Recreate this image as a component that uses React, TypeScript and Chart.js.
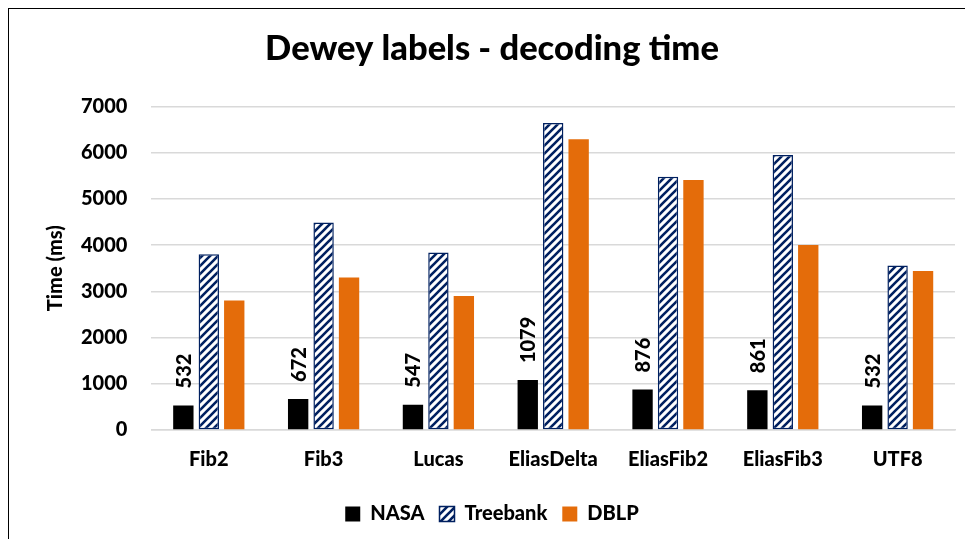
import React, { useEffect, useRef } from "react";
import { Chart, registerables } from "chart.js";

Chart.register(...registerables);

const categories = ["Fib2", "Fib3", "Lucas", "EliasDelta", "EliasFib2", "EliasFib3", "UTF8"];
const nasa = [532, 672, 547, 1079, 876, 861, 532];
const treebank = [3800, 4490, 3840, 6640, 5480, 5950, 3560];
const dblp = [2800, 3300, 2900, 6290, 5410, 4000, 3440];
const seriesNames = ["NASA", "Treebank", "DBLP"];
const titleText = "Dewey labels - decoding time";
const yTitle = "Time (ms)";
const yMax = 7000;
const yStep = 1000;

const FONT = "Lato";
const W = 900;
const NAVY = "#002060";
const ORANGE = "#E46C0A";

function makeHatch(ctx: CanvasRenderingContext2D) {
  const s = 8;
  const tile = document.createElement("canvas");
  tile.width = s;
  tile.height = s;
  const t = tile.getContext("2d")!;
  t.fillStyle = "#ffffff";
  t.fillRect(0, 0, s, s);
  t.strokeStyle = NAVY;
  t.lineWidth = 2.6;
  t.lineCap = "square";
  t.beginPath();
  t.moveTo(0, s);
  t.lineTo(s, 0);
  t.moveTo(-2, 2);
  t.lineTo(2, -2);
  t.moveTo(s - 2, s + 2);
  t.lineTo(s + 2, s - 2);
  t.stroke();
  return ctx.createPattern(tile, "repeat")!;
}

const nasaLabels = {
  id: "nasaLabels",
  afterDatasetsDraw(chart: any) {
    const ctx = chart.ctx as CanvasRenderingContext2D;
    const meta = chart.getDatasetMeta(0);
    const data = chart.data.datasets[0].data as number[];
    ctx.save();
    ctx.fillStyle = "#000";
    ctx.font = `${W} 20px ${FONT}`;
    meta.data.forEach((el: any, i: number) => {
      ctx.save();
      ctx.translate(el.x, el.y - 17);
      ctx.rotate(-Math.PI / 2);
      ctx.textAlign = "left";
      ctx.textBaseline = "middle";
      ctx.fillText(String(data[i]), 0, 1);
      ctx.restore();
    });
    ctx.restore();
  },
};

export default function App() {
  const ref = useRef<HTMLCanvasElement | null>(null);
  useEffect(() => {
    const canvas = ref.current!;
    const ctx = canvas.getContext("2d")!;
    const hatch = makeHatch(ctx);
    const chart = new Chart(canvas, {
      type: "bar",
      data: {
        labels: categories,
        datasets: [
          {
            label: seriesNames[0],
            data: nasa,
            backgroundColor: "#000000",
            borderWidth: 0,
          },
          {
            label: seriesNames[1],
            data: treebank,
            backgroundColor: hatch,
            borderColor: NAVY,
            borderWidth: 1.5,
            borderSkipped: false,
          },
          {
            label: seriesNames[2],
            data: dblp,
            backgroundColor: ORANGE,
            borderWidth: 0,
          },
        ],
      },
      options: {
        animation: false,
        responsive: false,
        maintainAspectRatio: false,
        datasets: { bar: { categoryPercentage: 0.665, barPercentage: 0.8 } },
        layout: { padding: { top: 5, right: 9, bottom: 4, left: 20 } },
        plugins: {
          tooltip: { enabled: false },
          title: {
            display: true,
            text: titleText,
            color: "#000",
            font: { family: FONT, size: 34.5, weight: W as any },
            padding: { top: 14, bottom: 37 },
          },
          legend: {
            position: "bottom",
            labels: {
              color: "#000",
              font: { family: FONT, size: 20, weight: W as any },
              boxWidth: 15,
              boxHeight: 15,
              padding: 15,
            },
          },
        },
        scales: {
          x: {
            grid: { display: false, drawTicks: false },
            border: { display: true, color: "#d9d9d9", width: 1.5 },
            ticks: {
              color: "#000",
              font: { family: FONT, size: 20, weight: W as any },
              padding: 18,
              maxRotation: 0,
            },
            afterFit: (s: any) => {
              s.height -= 1;
            },
          },
          y: {
            min: 0,
            max: yMax,
            ticks: {
              stepSize: yStep,
              color: "#000",
              font: { family: FONT, size: 20, weight: W as any },
              padding: 24,
              callback: (v: any) => String(v),
            },
            grid: { color: "#d9d9d9", lineWidth: 1.5, drawTicks: false },
            border: { display: false },
            title: {
              display: true,
              text: yTitle,
              color: "#000",
              font: { family: FONT, size: 20, weight: W as any },
              padding: { top: 15, bottom: 17 },
            },
            afterFit: (s: any) => {
              s.width -= 28;
            },
          },
        },
      },
      plugins: [nasaLabels],
    });
    return () => chart.destroy();
  }, []);
  return (
    <div
      style={{
        width: 957,
        height: 531,
        boxSizing: "border-box",
        borderLeft: "1.5px solid #000",
        borderTop: "1.5px solid #000",
        overflow: "hidden",
        background: "#fff",
      }}
    >
      <canvas ref={ref} width={955} height={529} style={{ display: "block" }} />
    </div>
  );
}
